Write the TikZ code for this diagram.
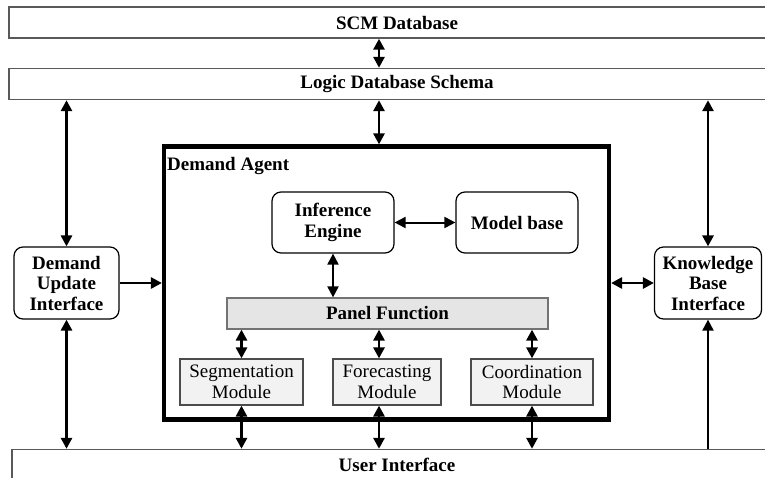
\documentclass[tikz,border=0pt]{standalone}
\usepackage{fontspec}
\setmainfont{Liberation Serif}
\usetikzlibrary{arrows.meta}
\begin{document}
\begin{tikzpicture}[x=1pt,y=-1pt,
  >={Triangle[length=11pt,width=11pt]},
  txt/.style={font=\fontsize{19}{20.5}\selectfont},
  btxt/.style={font=\fontsize{19}{20.5}\selectfont\bfseries},
  layer/.style={btxt, draw=black!65, line width=1.4pt, minimum height=31pt, inner sep=0pt},
  rbox/.style={btxt, draw=black, line width=1.2pt, rounded corners=9pt, align=center, inner sep=0pt},
  agentbox/.style={draw=black, line width=4.2pt, inner sep=0pt},
  panelbox/.style={btxt, draw=black!55, fill=black!10, line width=1.2pt, inner sep=0pt},
  modbox/.style={txt, draw=black!70, fill=black!5, line width=1.2pt, align=center, inner sep=0pt},
  link/.style={<->, line width=2.8pt},
  thinlink/.style={<->, line width=2pt}
]
\useasboundingbox (0,0) rectangle (765,477);

% database layers across the top and the user layer at the bottom
\node[layer, minimum width=776pt] (scm)   at (397,22.5) {SCM Database};
\node[layer, minimum width=776pt] (logic) at (397,84)   {Logic Database Schema};
\node[layer, minimum width=770pt] (ui)    at (397,465)  {User Interface};

% the agent frame and its contents
\node[agentbox, minimum width=445pt, minimum height=273pt] (agent) at (386.5,283) {};
\node[btxt, anchor=west, inner sep=0pt] (agentlbl) at (167,166) {Demand Agent};

\node[rbox, minimum width=122pt, minimum height=61pt] (inf)   at (333,222.5) {Inference\\Engine};
\node[rbox, minimum width=122pt, minimum height=61pt] (model) at (517,222.5) {Model base};
\node[panelbox, minimum width=321pt, minimum height=31pt] (panel) at (387.5,313.5) {Panel Function};

\node[modbox, minimum width=123pt, minimum height=46pt] (seg)   at (241.5,382) {Segmentation\\Module};
\node[modbox, minimum width=108pt, minimum height=46pt] (fore)  at (387,382)   {Forecasting\\Module};
\node[modbox, minimum width=122pt, minimum height=46pt] (coord) at (532,382)   {Coordination\\Module};

% interfaces on either side
\node[rbox, minimum width=105pt, minimum height=72pt] (dui) at (66.5,283) {Demand\\Update\\Interface};
\node[rbox, minimum width=107pt, minimum height=72pt] (kbi) at (708,283)  {Knowledge\\Base\\Interface};

% central vertical axis
\coordinate (axis) at (379,0);

% connectors
\draw[link] (axis |- scm.south) -- (axis |- logic.north);
\draw[link] (axis |- logic.south) -- (axis |- agent.north);
\draw[link] (dui.north |- logic.south) -- (dui.north);
\draw[link] (kbi.north |- logic.south) -- (kbi.north);
\draw[->, line width=2.8pt] (dui.east) -- (dui.east -| agent.west);
\draw[link] (kbi.west -| agent.east) -- (kbi.west);
\draw[link] (dui.south) -- (dui.south |- ui.north);
\draw[->, line width=2pt] (kbi.south |- ui.north) -- (kbi.south);

\draw[thinlink] (inf.east) -- (model.west);
\draw[thinlink] (inf.south) -- (inf.south |- panel.north);

\draw[link] (seg.north |- panel.south) -- (seg.north);
\draw[link] (axis |- panel.south) -- (axis |- fore.north);
\draw[link] (coord.north |- panel.south) -- (coord.north);

\draw[link] (seg.south) -- (seg.south |- ui.north);
\draw[link] (axis |- fore.south) -- (axis |- ui.north);
\draw[link] (coord.south) -- (coord.south |- ui.north);
\end{tikzpicture}
\end{document}
